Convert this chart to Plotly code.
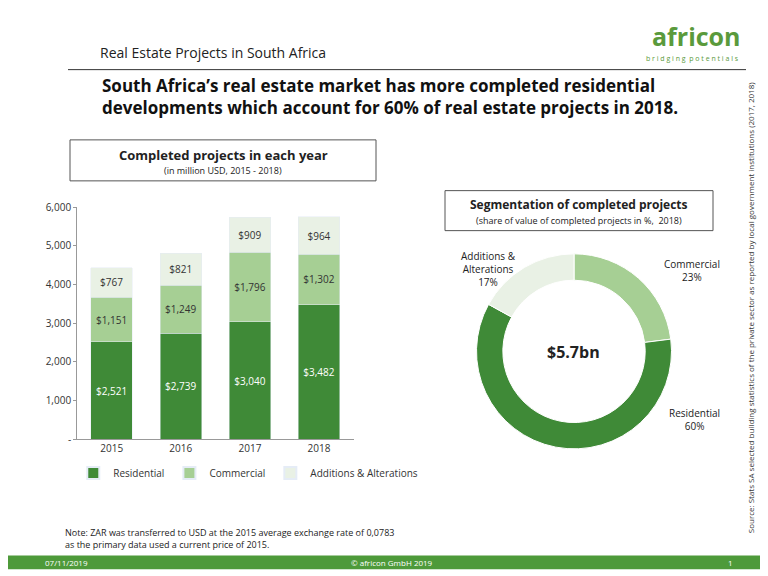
#----Librairies----
import plotly.graph_objects as go

#----Données----
YEARS = ["2015", "2016", "2017", "2018"]
RESIDENTIAL = [2521, 2739, 3040, 3482]
COMMERCIAL = [1151, 1249, 1796, 1302]
ADDITIONS = [767, 821, 909, 964]
SEG_LABELS = ["Commercial", "Residential", "Additions &<br>Alterations"]
SEG_VALUES = [23, 60, 17]
Y_TICKS = [0, 1000, 2000, 3000, 4000, 5000, 6000]
Y_TICKTEXT = ["-", "1,000", "2,000", "3,000", "4,000", "5,000", "6,000"]

DARK = "#3f8a37"
MID = "#a6cf94"
LIGHT = "#e9f1e5"
FONT = "Open Sans"


#----Fonctions----
def add_box(fig, x0, x1, y0, y1):
    """
    Dessine un cadre (coordonnées en pixels depuis le haut).
    """
    fig.add_shape(type="rect", xref="paper", yref="paper",
                  x0=x0 / 768, x1=x1 / 768, y0=1 - y1 / 576, y1=1 - y0 / 576,
                  line=dict(color="#555555", width=1))


def add_text(fig, x, y, text, size=11, color="#222222", xanchor="left", **kw):
    """
    Ajoute un texte positionné en pixels.
    """
    fig.add_annotation(x=x / 768, y=1 - y / 576, xref="paper", yref="paper", text=text,
                       showarrow=False, xanchor=xanchor, yanchor="middle",
                       font=dict(size=size, color=color, family=FONT), **kw)


def build_figure():
    """
    Construit la diapositive avec barres empilées et anneau.
    """
    fig = go.Figure()
    for name, vals, col in [("Residential", RESIDENTIAL, DARK),
                            ("Commercial", COMMERCIAL, MID),
                            ("Additions & Alterations", ADDITIONS, LIGHT)]:
        fig.add_trace(go.Bar(x=YEARS, y=vals, name=name, marker_color=col,
                             text=[f"${v:,}" for v in vals], textposition="inside",
                             insidetextanchor="middle",
                             textfont=dict(size=10, color="white" if col == DARK else "#333333")))

    fig.add_trace(go.Pie(labels=SEG_LABELS, values=SEG_VALUES, hole=0.73, sort=False,
                         direction="clockwise", rotation=0, showlegend=False,
                         marker=dict(colors=[MID, DARK, LIGHT], line=dict(color="white", width=1)),
                         textinfo="none", domain=dict(x=[0.608, 0.866], y=[0.228, 0.575])))

    fig.update_layout(
        width=768, height=576, margin=dict(l=0, r=0, t=0, b=0),
        paper_bgcolor="white", plot_bgcolor="white", barmode="stack", bargap=0.4,
        font=dict(family=FONT, size=10, color="#333333"),
        xaxis=dict(domain=[0.09, 0.45], showline=True, linecolor="#999999", ticks=""),
        yaxis=dict(domain=[0.245, 0.658], range=[0, 6000], tickvals=Y_TICKS,
                   ticktext=Y_TICKTEXT, showgrid=False, ticks="outside", ticklen=3,
                   tickcolor="#999999", showline=True, linecolor="#999999"),
        legend=dict(orientation="h", x=0.085, y=0.185, xanchor="left", yanchor="middle",
                    font=dict(size=10), traceorder="normal", itemwidth=30,
                    entrywidth=0, itemsizing="constant"),
    )

    # En-tête
    add_text(fig, 90, 38, "Real Estate Projects in South Africa", size=14)
    add_text(fig, 735, 22, "<b>africon</b>", size=25, color="#5a9a3c", xanchor="right")
    add_text(fig, 733, 45, "b r i d g i n g  p o t e n t i a l s", size=7, color="#5a9a3c", xanchor="right")
    fig.add_shape(type="line", xref="paper", yref="paper", x0=60 / 768, x1=738 / 768,
                  y0=1 - 56 / 576, y1=1 - 56 / 576, line=dict(color="#333333", width=1))
    add_text(fig, 92, 84, "<b>South Africa’s real estate market has more completed residential<br>"
             "developments which account for 60% of real estate projects in 2018.</b>",
             size=17, color="#111111", align="left")

    # Cadres
    add_box(fig, 62, 368, 128, 170)
    add_text(fig, 215, 143, "<b>Completed projects in each year</b>", size=13, xanchor="center")
    add_text(fig, 215, 159, "(in million USD, 2015 - 2018)", size=9, xanchor="center")
    add_box(fig, 437, 705, 180, 221)
    add_text(fig, 571, 194, "<b>Segmentation of completed projects</b>", size=12, xanchor="center")
    add_text(fig, 571, 211, "(share of value of completed projects in %,  2018)", size=9, xanchor="center")

    # Anneau
    add_text(fig, 565, 345, "<b>$5.7bn</b>", size=16, color="#222222", xanchor="center")
    add_text(fig, 684, 262, "Commercial<br>23%", size=10, xanchor="center")
    add_text(fig, 686, 415, "Residential<br>60%", size=10, xanchor="center")
    add_text(fig, 480, 260, "Additions &<br>Alterations<br>17%", size=10, xanchor="center")

    # Note et source
    add_text(fig, 55, 537, "Note: ZAR was transferred to USD at the 2015 average exchange rate of 0,0783<br>"
             "as the primary data used a current price of 2015.", size=9, align="left")
    fig.add_annotation(x=750 / 768, y=1 - 300 / 576, xref="paper", yref="paper", showarrow=False,
                       textangle=-90, font=dict(size=8, family=FONT, color="#333333"),
                       text="Source: Stats SA selected building statistics of the private sector as reported by local government institutions (2017, 2018)")

    # Pied de page
    fig.add_shape(type="rect", xref="paper", yref="paper", x0=0, x1=1,
                  y0=1 - 568 / 576, y1=1 - 554 / 576, fillcolor="#4e9a3a", line_width=0)
    add_text(fig, 35, 561, "07/11/2019", size=8, color="white")
    add_text(fig, 384, 561, "© africon GmbH 2019", size=8, color="white", xanchor="center")
    add_text(fig, 718, 561, "1", size=8, color="white")
    return fig


fig = build_figure()
fig.write_html("out.html")
